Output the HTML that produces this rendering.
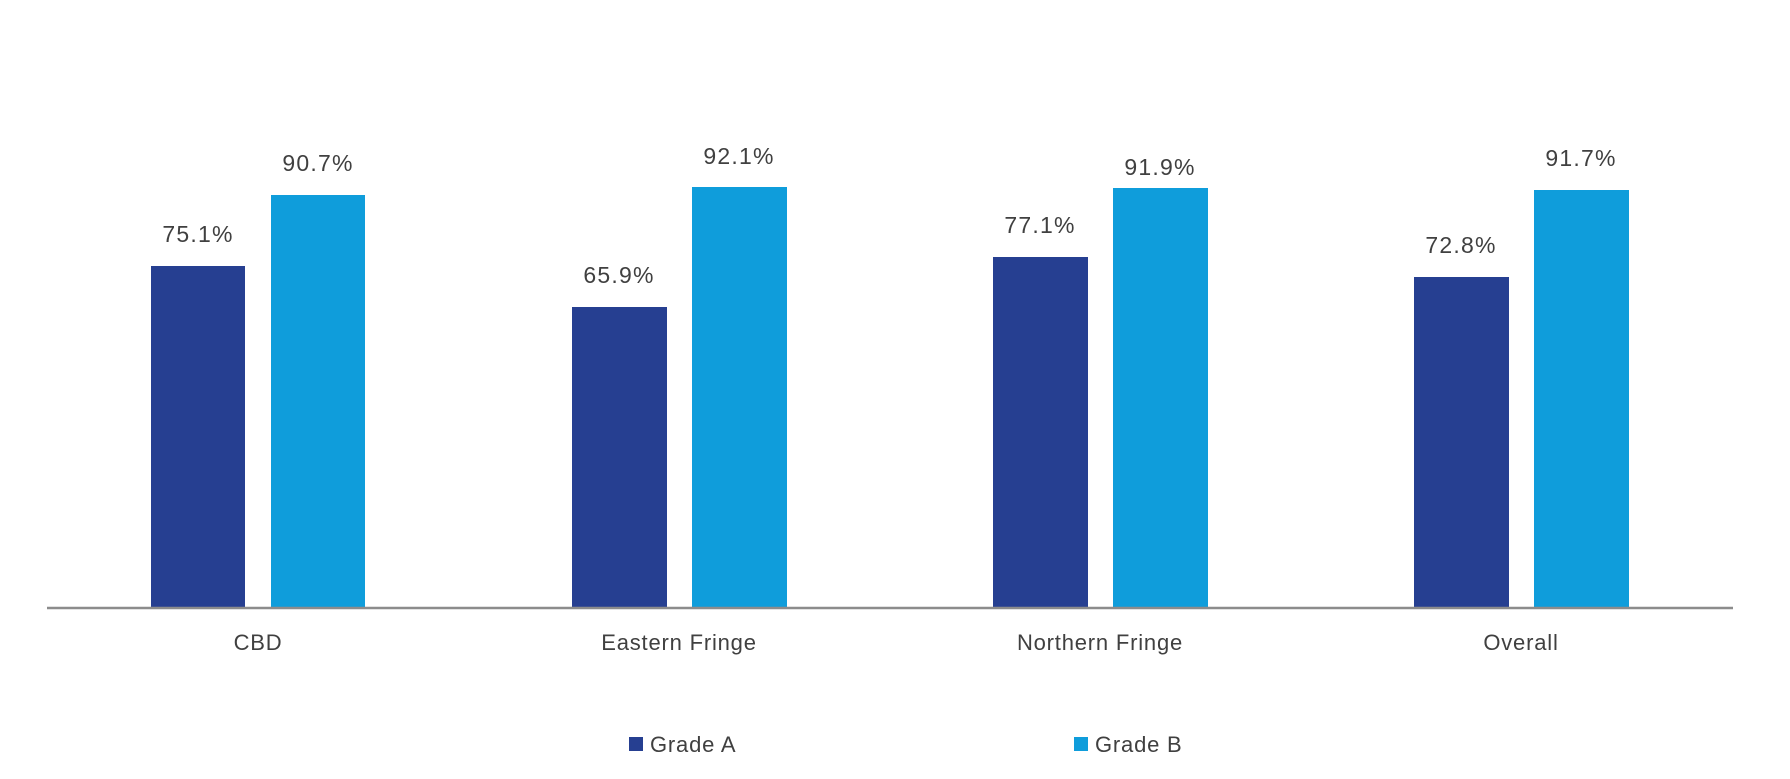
<!DOCTYPE html>
<html><head><meta charset="utf-8"><style>
html,body{margin:0;padding:0;background:#fff;}
svg text{font-family:"Liberation Sans",sans-serif;fill:#404040;font-size:22px;}
.v{font-size:23px;letter-spacing:1.2px;}
.c{letter-spacing:0.8px;}
.l{letter-spacing:0.8px;}
</style></head><body>
<svg width="1790" height="774" xmlns="http://www.w3.org/2000/svg">
<rect width="1790" height="774" fill="#fff"/>
<g fill="#263f91">
<rect x="151" y="266" width="94" height="342"/>
<rect x="572" y="307" width="95" height="301"/>
<rect x="993" y="257" width="95" height="351"/>
<rect x="1414" y="277" width="95" height="331"/>
</g>
<g fill="#0f9ddb">
<rect x="271" y="195" width="94" height="413"/>
<rect x="692" y="187" width="95" height="421"/>
<rect x="1113" y="188" width="95" height="420"/>
<rect x="1534" y="190" width="95" height="418"/>
</g>
<line x1="47" y1="608" x2="1733" y2="608" stroke="#8c8c8c" stroke-width="2.5"/>
<g text-anchor="middle">
<text class="v" x="198" y="242">75.1%</text>
<text class="v" x="318" y="171">90.7%</text>
<text class="v" x="619" y="283">65.9%</text>
<text class="v" x="739" y="164">92.1%</text>
<text class="v" x="1040" y="233">77.1%</text>
<text class="v" x="1160" y="175">91.9%</text>
<text class="v" x="1461" y="253">72.8%</text>
<text class="v" x="1581" y="166">91.7%</text>
<text class="c" x="258" y="650">CBD</text>
<text class="c" x="679" y="650">Eastern Fringe</text>
<text class="c" x="1100" y="650">Northern Fringe</text>
<text class="c" x="1521" y="650">Overall</text>
</g>
<rect x="629" y="737" width="14" height="14" fill="#263f91"/>
<text class="l" x="650" y="752">Grade A</text>
<rect x="1074" y="737" width="14" height="14" fill="#0f9ddb"/>
<text class="l" x="1095" y="752">Grade B</text>
</svg>
</body></html>
